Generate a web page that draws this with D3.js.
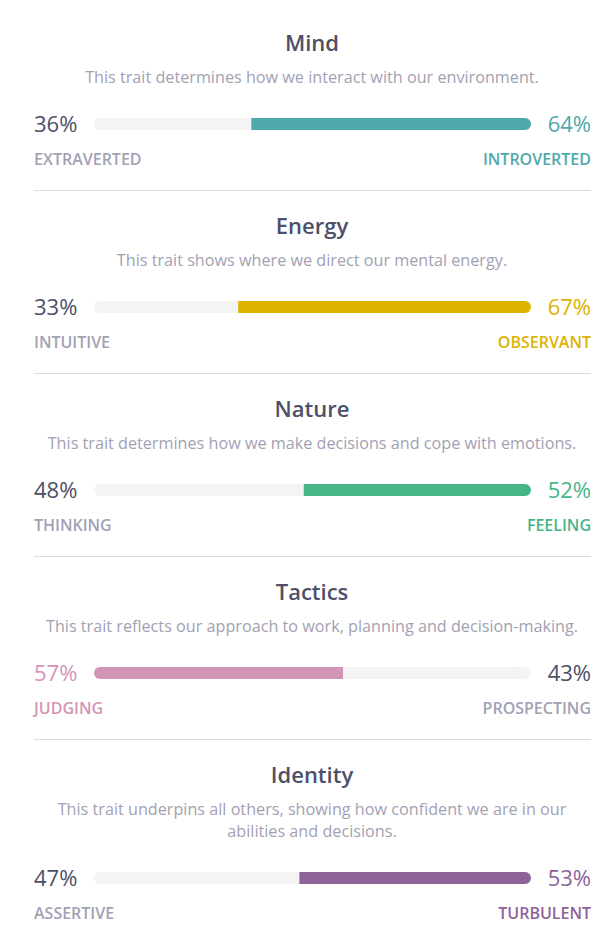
<!DOCTYPE html>
<html><head><meta charset="utf-8">
<script src="https://cdn.jsdelivr.net/npm/d3@7"></script>
<style>
html,body{margin:0;padding:0;background:#fff;}
svg text{font-family:"Open Sans",sans-serif;}
</style></head>
<body><div id="chart"></div>
<script>
const traits = ["Mind","Energy","Nature","Tactics","Identity"];
const descriptions = [
  ["This trait determines how we interact with our environment."],
  ["This trait shows where we direct our mental energy."],
  ["This trait determines how we make decisions and cope with emotions."],
  ["This trait reflects our approach to work, planning and decision-making."],
  ["This trait underpins all others, showing how confident we are in our","abilities and decisions."]
];
const leftLabels = ["EXTRAVERTED","INTUITIVE","THINKING","JUDGING","ASSERTIVE"];
const rightLabels = ["INTROVERTED","OBSERVANT","FEELING","PROSPECTING","TURBULENT"];
const leftValues = [36,33,48,57,47];
const rightValues = [64,67,52,43,53];
const dominantSide = ["right","right","right","left","right"];
const traitColors = ["#4fa9aa","#dcb300","#47b687","#d395b6","#8e6399"];

const W = 603, H = 941;
const dark = "#4d5068", grey = "#a2a1b4";
const svg = d3.select("#chart").append("svg").attr("width",W).attr("height",H);
const defs = svg.append("defs");
const x = d3.scaleLinear().domain([0,100]).range([94,531]);
const barH = 12;

let y0 = 0;
traits.forEach((t,i)=>{
  const g = svg.append("g");
  const extra = (descriptions[i].length-1)*22;
  g.append("text").attr("x",312).attr("y",y0+51).attr("text-anchor","middle")
    .attr("font-size",22).attr("font-weight",600).attr("fill",dark).text(t);
  descriptions[i].forEach((line,j)=>{
    g.append("text").attr("x",312).attr("y",y0+83+j*22).attr("text-anchor","middle")
      .attr("font-size",16.2).attr("fill",grey).text(line);
  });
  const by = y0+124+extra;
  const col = traitColors[i];
  const leftDom = dominantSide[i]==="left";
  g.append("rect").attr("x",x(0)).attr("y",by-barH/2).attr("width",x(100)-x(0)).attr("height",barH)
    .attr("rx",barH/2).attr("fill",col).attr("opacity",0.1);
  g.append("rect").attr("x",x(0)+0.5).attr("y",by-barH/2+0.3).attr("width",x(100)-x(0)-1).attr("height",barH-0.6)
    .attr("rx",barH/2-0.4).attr("fill","#f4f4f4");
  const cid = "clip"+i;
  const cx0 = leftDom ? x(0) : x(leftValues[i]);
  const cx1 = leftDom ? x(leftValues[i]) : x(100);
  defs.append("clipPath").attr("id",cid).append("rect")
    .attr("x",cx0).attr("y",by-barH).attr("width",cx1-cx0).attr("height",barH*2);
  g.append("rect").attr("x",x(0)).attr("y",by-barH/2).attr("width",x(100)-x(0)).attr("height",barH)
    .attr("rx",barH/2).attr("fill",col).attr("clip-path",`url(#${cid})`);
  g.append("text").attr("x",34).attr("y",by+8).attr("font-size",22)
    .attr("fill",leftDom?col:dark).text(leftValues[i]+"%");
  g.append("text").attr("x",591).attr("y",by+8).attr("text-anchor","end").attr("font-size",22)
    .attr("fill",leftDom?dark:col).text(rightValues[i]+"%");
  g.append("text").attr("x",34).attr("y",by+41).attr("font-size",16).attr("font-weight",600)
    .attr("fill",leftDom?col:grey).text(leftLabels[i]);
  g.append("text").attr("x",591).attr("y",by+41).attr("text-anchor","end").attr("font-size",16).attr("font-weight",600)
    .attr("fill",leftDom?grey:col).text(rightLabels[i]);
  if(i<traits.length-1){
    g.append("line").attr("x1",34).attr("x2",591).attr("y1",y0+190.5+extra).attr("y2",y0+190.5+extra)
      .attr("stroke","#dcdcdc").attr("stroke-width",1);
  }
  y0 += 183+extra;
});
</script></body></html>
